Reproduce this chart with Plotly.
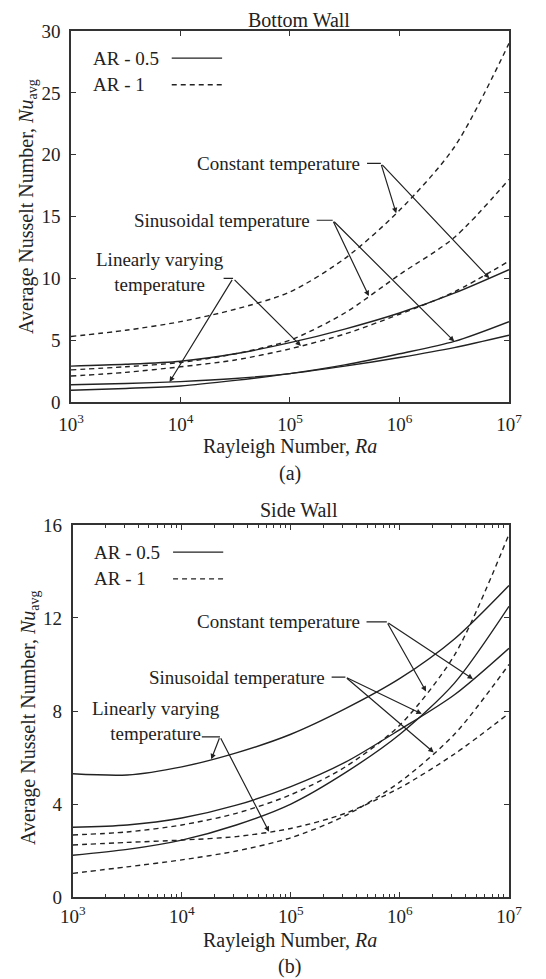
import numpy as np
import plotly.graph_objects as go

# Rayleigh number sample points (half decades)
ra = [1e3, 10**3.5, 1e4, 10**4.5, 1e5, 10**5.5, 1e6, 10**6.5, 1e7]

# (a) Bottom wall, average Nusselt number
bw_const_ar05 = [2.9, 3.05, 3.3, 3.9, 4.8, 5.9, 7.2, 8.8, 10.7]
bw_const_ar1 = [5.3, 5.8, 6.5, 7.5, 8.9, 11.6, 15.5, 20.6, 29.0]
bw_sin_ar05 = [0.95, 1.1, 1.3, 1.75, 2.3, 3.0, 3.9, 4.9, 6.5]
bw_sin_ar1 = [2.6, 2.85, 3.2, 3.9, 5.0, 7.2, 10.3, 13.3, 18.0]
bw_lin_ar05 = [1.4, 1.5, 1.65, 1.9, 2.3, 2.9, 3.6, 4.4, 5.4]
bw_lin_ar1 = [2.1, 2.4, 2.85, 3.4, 4.3, 5.5, 7.1, 8.9, 11.4]

# (b) Side wall, average Nusselt number
sw_const_ar05 = [3.0, 3.1, 3.4, 3.95, 4.75, 5.8, 7.2, 8.7, 10.7]
sw_const_ar1 = [2.67, 2.8, 3.1, 3.6, 4.4, 5.6, 7.4, 10.4, 15.6]
sw_sin_ar05 = [1.8, 2.05, 2.45, 3.1, 4.0, 5.35, 7.0, 9.2, 12.5]
sw_sin_ar1 = [1.02, 1.3, 1.6, 1.98, 2.55, 3.5, 4.95, 7.0, 10.0]
sw_lin_ar05 = [5.3, 5.25, 5.6, 6.2, 7.0, 8.1, 9.4, 11.1, 13.4]
sw_lin_ar1 = [2.24, 2.35, 2.45, 2.6, 2.95, 3.6, 4.7, 6.15, 7.9]

x_tickvals = [1e3, 1e4, 1e5, 1e6, 1e7]
x_ticktext = ["10<sup>3</sup>", "10<sup>4</sup>", "10<sup>5</sup>", "10<sup>6</sup>", "10<sup>7</sup>"]
bw_yticks = [0, 5, 10, 15, 20, 25, 30]
sw_yticks = [0, 4, 8, 12, 16]

FONT = "Liberation Serif"
INK = "#222222"
DASH = "5px,4px"

fig = go.Figure()

panels = [
    ("x", "y", [bw_const_ar05, bw_sin_ar05, bw_lin_ar05], [bw_const_ar1, bw_sin_ar1, bw_lin_ar1]),
    ("x2", "y2", [sw_const_ar05, sw_sin_ar05, sw_lin_ar05], [sw_const_ar1, sw_sin_ar1, sw_lin_ar1]),
]
for xa, ya, solids, dashes in panels:
    for s in solids:
        fig.add_trace(go.Scatter(x=ra, y=s, mode="lines", xaxis=xa, yaxis=ya, showlegend=False,
                                 line=dict(color=INK, width=1.4, shape="spline", smoothing=0.8)))
    for s in dashes:
        fig.add_trace(go.Scatter(x=ra, y=s, mode="lines", xaxis=xa, yaxis=ya, showlegend=False,
                                 line=dict(color=INK, width=1.4, dash=DASH, shape="spline", smoothing=0.8)))


def on_curve(series, log_ra):
    # Nu on a curve at a given log10(Ra)
    return float(np.interp(log_ra, np.log10(ra), series))


def label(xa, ya, text, text_x, text_y, lead_x, elbow_x, elbow_y, targets):
    # text, short horizontal leader, then arrows to the curves
    fig.add_annotation(xref=xa, yref=ya, x=text_x, y=text_y, text=text, showarrow=False,
                       xanchor="right", yanchor="middle", align="center",
                       font=dict(family=FONT, size=19, color=INK))
    fig.add_annotation(xref=xa, yref=ya, x=elbow_x, y=elbow_y, ax=lead_x, ay=elbow_y,
                       axref=xa, ayref=ya, text="", showarrow=True, arrowhead=0, arrowwidth=1.2,
                       arrowcolor=INK)
    for series, lx in targets:
        fig.add_annotation(xref=xa, yref=ya, x=lx, y=on_curve(series, lx), ax=elbow_x, ay=elbow_y,
                           axref=xa, ayref=ya, text="", showarrow=True, arrowhead=2,
                           arrowsize=0.9, arrowwidth=1.2, arrowcolor=INK)


# (a) labels
label("x", "y", "Constant temperature", 5.66, 19.3, 5.69, 5.83, 19.3,
      [(bw_const_ar1, 5.97), (bw_const_ar05, 6.82)])
label("x", "y", "Sinusoidal temperature", 5.2, 14.7, 5.23, 5.39, 14.7,
      [(bw_sin_ar1, 5.72), (bw_sin_ar05, 6.5)])
label("x", "y", "Linearly varying<br>temperature", 4.42, 10.5, 4.38, 4.48, 10.0,
      [(bw_lin_ar05, 3.9), (bw_lin_ar1, 5.1)])

# (b) labels
label("x2", "y2", "Constant temperature", 5.65, 11.83, 5.68, 5.88, 11.83,
      [(sw_const_ar1, 6.24), (sw_const_ar05, 6.67)])
label("x2", "y2", "Sinusoidal temperature", 5.33, 9.46, 5.36, 5.5, 9.46,
      [(sw_sin_ar05, 6.2), (sw_sin_ar1, 6.31)])
label("x2", "y2", "Linearly varying<br>temperature", 4.37, 7.57, 4.17, 4.35, 6.89,
      [(sw_lin_ar05, 4.27), (sw_lin_ar1, 4.8)])

# legends drawn the way the figure shows them: text, then line sample
for xa, ya in [("x", "y"), ("x2", "y2")]:
    for txt, yy, dash in [("AR - 0.5", 0.927, "solid"), ("AR - 1", 0.855, DASH)]:
        fig.add_annotation(xref=xa + " domain", yref=ya + " domain", x=0.045, y=yy, text=txt,
                           showarrow=False, xanchor="left", yanchor="middle",
                           font=dict(family=FONT, size=19, color=INK))
        fig.add_shape(type="line", xref=xa + " domain", yref=ya + " domain", x0=0.23, x1=0.345,
                      y0=yy, y1=yy, line=dict(color=INK, width=1.4, dash=dash))

axis_common = dict(showline=True, linecolor="#333333", linewidth=1.6, mirror="ticks", ticks="inside",
                   ticklen=5, tickcolor="#333333", showgrid=False, zeroline=False, automargin=False,
                   tickfont=dict(family=FONT, size=19, color=INK))

# page body adds an 8px offset, so the figure is 8px smaller than the window
fig.update_layout(
    width=538, height=971,
    margin=dict(l=0, r=0, t=0, b=0, autoexpand=False),
    paper_bgcolor="white", plot_bgcolor="white",
    xaxis=dict(axis_common, type="log", domain=[0.1171, 0.9312], range=[3, 7], anchor="y",
               tickvals=x_tickvals, ticktext=x_ticktext, ticklabelstandoff=4),
    yaxis=dict(axis_common, domain=[0.5942, 0.9763], range=[0, 30], anchor="x", tickvals=bw_yticks,
               ticklabelstandoff=5),
    xaxis2=dict(axis_common, type="log", domain=[0.1203, 0.9312], range=[3, 7], anchor="y2",
                tickvals=x_tickvals, ticktext=x_ticktext, ticklabelstandoff=1,
                minor=dict(ticks="inside", ticklen=3, tickcolor="#333333", dtick="D1")),
    yaxis2=dict(axis_common, domain=[0.0844, 0.4676], range=[0, 16], anchor="x2", tickvals=sw_yticks,
                ticklabelstandoff=5),
)

# titles, axis titles and captions
texts = [
    ("Bottom Wall", 0.541, 1.0, 0, "top"),
    ("Rayleigh Number, <i>Ra</i>", 0.524, 0.5479, 0, "middle"),
    ("(a)", 0.524, 0.5211, 0, "middle"),
    ("Average Nusselt Number, <i>Nu</i><sub>avg</sub>", 0.037, 0.7961, -90, "middle"),
    ("Side Wall", 0.541, 0.4830, 0, "middle"),
    ("Rayleigh Number, <i>Ra</i>", 0.524, 0.0392, 0, "middle"),
    ("(b)", 0.524, 0.0124, 0, "middle"),
    ("Average Nusselt Number, <i>Nu</i><sub>avg</sub>", 0.039, 0.2698, -90, "middle"),
]
for txt, px, py, ang, yanc in texts:
    fig.add_annotation(xref="paper", yref="paper", x=px, y=py, text=txt, showarrow=False,
                       textangle=ang, xanchor="center", yanchor=yanc, borderpad=0,
                       font=dict(family=FONT, size=20, color=INK))

fig.write_html("out.html")
